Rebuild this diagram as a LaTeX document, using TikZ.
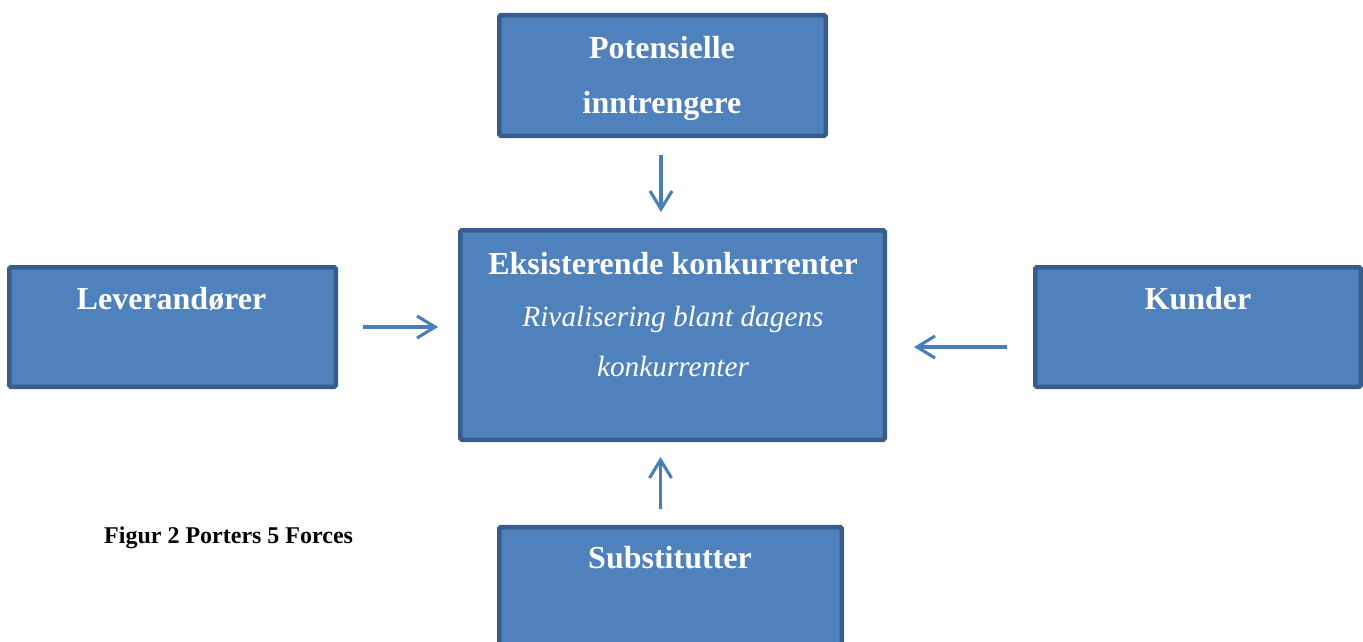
\documentclass[tikz,border=0pt]{standalone}
\usepackage{fontspec}
\setmainfont{Liberation Serif}
\definecolor{boxfill}{HTML}{4F81BD}
\definecolor{boxline}{HTML}{385D8A}
\definecolor{arrowblue}{HTML}{4A7EBB}
\usetikzlibrary{arrows.meta}
\begin{document}
\begin{tikzpicture}
	[x=1pt,y=-1pt,
	forcebox/.style={draw=boxline,fill=boxfill,line width=4.5pt,rounded corners=1.5pt,inner sep=0pt},
	forcetext/.style={text=white,inner sep=0pt,align=center,font=\fontsize{32}{55}\selectfont\bfseries},
	forcearrow/.style={draw=arrowblue,line width=3.1pt,-{Straight Barb[length=18pt,width=22pt,line width=3.1pt]}}]
	\useasboundingbox (0,0) rectangle (1363,642);
	\clip (0,0) rectangle (1363,642);
	
	\node [forcebox,minimum width=326.5pt,minimum height=120.5pt] (pot) at (662.5,75.5) {};
	\node [forcebox,minimum width=424.5pt,minimum height=209.5pt] (eks) at (672.5,335) {};
	\node [forcebox,minimum width=326.5pt,minimum height=119.5pt] (lev) at (172.5,327) {};
	\node [forcebox,minimum width=325.5pt,minimum height=119.5pt] (kun) at (1198,327) {};
	\node [forcebox,minimum width=342.5pt,minimum height=133pt] (sub) at (670.5,593.5) {};
	
	\node [forcetext,anchor=north] (pottext) at (662,36.3)
	{
		Potensielle\\
		inntrengere
	};
	\node [forcetext,anchor=north,font=\fontsize{29.3}{50}\selectfont\itshape] (ekstext) at (673,252)
	{
		{\fontsize{32}{50}\selectfont\bfseries\upshape Eksisterende konkurrenter}\\[2pt]
		Rivalisering blant dagens\\
		konkurrenter
	};
	\node [forcetext,anchor=base] (levtext) at (171.5,309) {Leverandører};
	\node [forcetext,anchor=base] (kuntext) at (1198,309) {Kunder};
	\node [forcetext,anchor=base] (subtext) at (670,568) {Substitutter};
	
	\node [anchor=base west,inner sep=0pt,font=\fontsize{24}{28}\selectfont\bfseries] (caption) at (104,543) {Figur 2 Porters 5 Forces};
	
	\draw [forcearrow,shorten <=17pt,shorten >=16pt] ([xshift=-1.5pt]pot.south) -- ([xshift=-1.5pt]pot.south |- eks.north);
	\draw [forcearrow,shorten <=25pt,shorten >=20pt] (lev.east) -- (lev.east -| eks.west);
	\draw [forcearrow,shorten <=26pt,shorten >=27pt] ([yshift=-20pt]kun.west) -- ([yshift=-20pt]kun.west -| eks.east);
	\draw [forcearrow,shorten <=16pt,shorten >=15pt] ([xshift=-10pt]sub.north) -- ([xshift=-10pt]sub.north |- eks.south);
\end{tikzpicture}
\end{document}
